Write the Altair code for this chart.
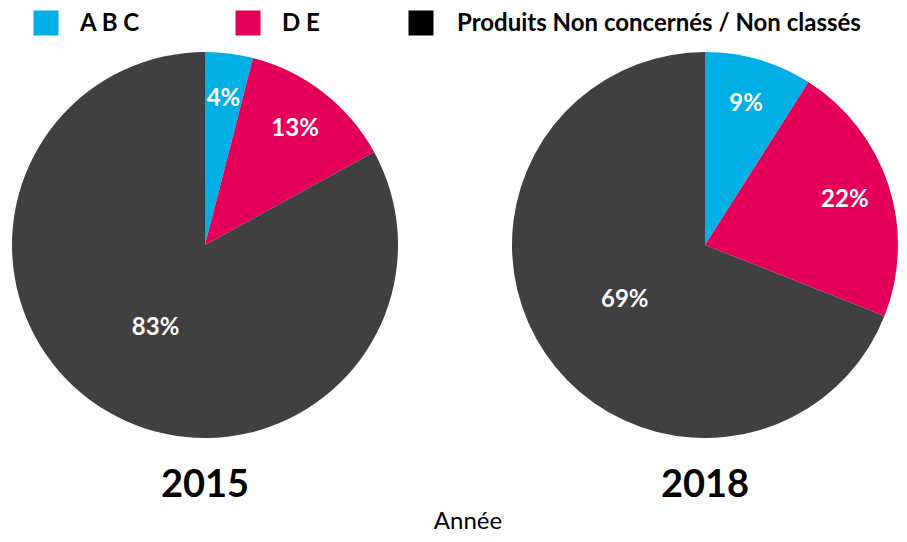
import altair as alt
import pandas as pd

years = ["2015", "2018"]
categories = ["A B C", "D E", "Produits Non concernés / Non classés"]
values_2015 = [4, 13, 83]
values_2018 = [9, 22, 69]
slice_colors = ["#00B0E4", "#E4005A", "#404040"]
legend_colors = ["#00B0E4", "#E4005A", "#000000"]
axis_title = "Année"

FONT = "Lato"

rows = []
for y, vals in zip(years, [values_2015, values_2018]):
    for i, (c, v) in enumerate(zip(categories, vals)):
        rows.append({"year": y, "cat": c, "value": v, "order": i, "label": f"{v}%"})
df = pd.DataFrame(rows)

theta_scale = alt.Scale(domain=[0, 100])
color_scale = alt.Scale(domain=categories, range=slice_colors)

centers = {"2015": 197, "2018": 697}
CY = 237
R = 193

layers = []
for y in years:
    cx = centers[y]
    base = alt.Chart(df).transform_filter(alt.datum.year == y)
    arc = base.mark_arc(outerRadius=R, stroke=None).encode(
        theta=alt.Theta("value:Q", stack=True, scale=theta_scale),
        color=alt.Color("cat:N", scale=color_scale, legend=None),
        order=alt.Order("order:Q"),
        x=alt.value(cx),
        y=alt.value(CY),
    )
    lab = base.transform_window(
        cum="sum(value)", sort=[alt.SortField("order")]
    ).transform_calculate(mid="datum.cum - datum.value / 2")
    small = lab.transform_filter(alt.datum.cat != categories[2]).mark_text(
        radius=147, font=FONT, fontSize=24, fontWeight="bold", color="white",
        baseline="middle", align="center"
    ).encode(
        theta=alt.Theta("mid:Q", stack=None, scale=theta_scale),
        text="label:N",
        x=alt.value(cx),
        y=alt.value(CY),
    )
    big = lab.transform_filter(alt.datum.cat == categories[2]).mark_text(
        radius=97, font=FONT, fontSize=24, fontWeight="bold", color="white",
        baseline="middle", align="center"
    ).encode(
        theta=alt.Theta("mid:Q", stack=None, scale=theta_scale),
        text="label:N",
        x=alt.value(cx),
        y=alt.value(CY),
    )
    ydf = pd.DataFrame({"year": [y]})
    ytxt = alt.Chart(ydf).mark_text(
        font=FONT, fontSize=38, fontWeight="bold", color="black",
        align="center", baseline="alphabetic"
    ).encode(text="year:N", x=alt.value(cx), y=alt.value(489))
    layers += [arc, small, big, ytxt]

title_txt = alt.Chart(pd.DataFrame({"t": [axis_title]})).mark_text(
    font=FONT, fontSize=24, color="black", align="center", baseline="bottom"
).encode(text="t:N", x=alt.value(460), y=alt.value(526))

# manual legend: one square + label per category
legend_sym_x = [38, 240, 413]
legend_txt_x = [72, 274, 449]
legend_df = pd.DataFrame({"cat": categories})
legend_layers = []
for i, c in enumerate(categories):
    ld = alt.Chart(legend_df).transform_filter(alt.datum.cat == c)
    sq = ld.mark_square(size=625, opacity=1, color=legend_colors[i]).encode(
        x=alt.value(legend_sym_x[i]), y=alt.value(15)
    )
    tx = ld.mark_text(
        font=FONT, fontSize=24, fontWeight="bold", color="black",
        align="left", baseline="middle"
    ).encode(text="cat:N", x=alt.value(legend_txt_x[i]), y=alt.value(16))
    legend_layers += [sq, tx]

chart = alt.layer(*layers, title_txt, *legend_layers).properties(
    width=891, height=526, autosize=alt.AutoSizeParams(type="none"), padding=0
).configure_view(stroke=None)

chart.save("out.html", embed_options={"renderer": "svg", "actions": False})
